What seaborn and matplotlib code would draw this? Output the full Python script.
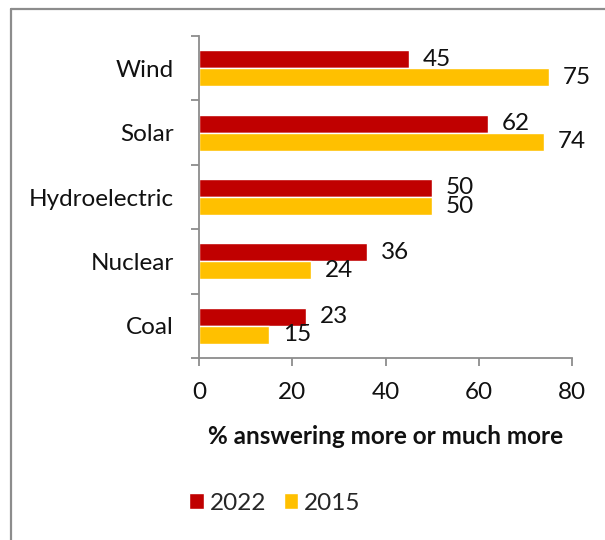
import numpy as np
import pandas as pd
import matplotlib.pyplot as plt
import seaborn as sns
from matplotlib.lines import Line2D

# данные с картинки
sources = ['Wind', 'Solar', 'Hydroelectric', 'Nuclear', 'Coal']
vals_2022 = [45, 62, 50, 36, 23]
vals_2015 = [75, 74, 50, 24, 15]
years = ['2022', '2015']
colors = ['#C00000', '#FFC000']

df = pd.DataFrame({
    'source': sources * 2,
    'value': vals_2022 + vals_2015,
    'year': [years[0]] * len(sources) + [years[1]] * len(sources),
})

sns.set_style('white')
plt.rcParams['font.family'] = ['Lato', 'DejaVu Sans']
fs = 17.5

fig = plt.figure(figsize=(6.05, 5.4), dpi=100)
ax = fig.add_axes([199/605, 1-358/540, (572-199)/605, (358-36)/540])

sns.barplot(data=df, y='source', x='value', hue='year', orient='h',
            palette=colors, width=0.56, ax=ax, saturation=1, legend=True)

for cont in ax.containers:
    ax.bar_label(cont, padding=10, fontsize=fs, color='#111111')

ax.set_xlim(0, 80)
ax.set_ylim(4.5, -0.5)
ax.set_xticks([0, 20, 40, 60, 80])
ax.tick_params(axis='x', labelsize=fs, length=6, width=1.3, color='#8c8c8c',
               direction='out', bottom=True, pad=11, labelcolor='#111111')
ax.tick_params(axis='y', which='major', labelsize=fs, length=0, pad=18, labelcolor='#111111')
ax.set_yticks(np.arange(-0.5, 5, 1), minor=True)
ax.tick_params(axis='y', which='minor', length=6, width=1.3, color='#8c8c8c', left=True)

for side in ['top', 'right']:
    ax.spines[side].set_visible(False)
for side in ['left', 'bottom']:
    ax.spines[side].set_color('#8c8c8c')
    ax.spines[side].set_linewidth(1.3)

ax.set_ylabel('')
ax.set_xlabel('% answering more or much more', fontsize=fs, fontweight='bold',
              labelpad=16, color='#111111')

ax.legend(loc='center', bbox_to_anchor=(275/605, 1-503/540), bbox_transform=fig.transFigure,
          ncol=2, frameon=False, fontsize=fs, handlelength=0.6, handleheight=0.6,
          handletextpad=0.25, columnspacing=0.7)

# рамка области графика (обрезана справа и снизу)
fig.add_artist(Line2D([11/605, 11/605], [0, 1-9/540], transform=fig.transFigure,
                      color='#8c8c8c', lw=1.6))
fig.add_artist(Line2D([11/605, 1], [1-9/540, 1-9/540], transform=fig.transFigure,
                      color='#8c8c8c', lw=1.6))

fig.savefig('out.png', dpi=100)
